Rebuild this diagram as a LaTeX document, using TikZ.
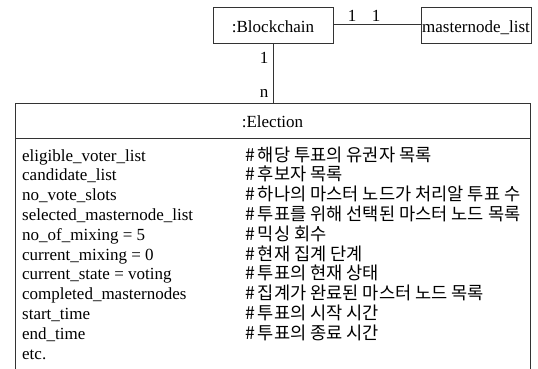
\documentclass[tikz,border=0pt]{standalone}
\usepackage{fontspec}
\setmainfont{Liberation Serif}
\newfontfamily\kr{Noto Sans CJK KR}
\begin{document}
\begin{tikzpicture}[x=1pt,y=-1pt,
  box/.style={draw=black!80, line width=0.8pt},
  lat/.style={anchor=base west, inner sep=0pt, font=\fontsize{17}{20}\selectfont},
  kor/.style={anchor=base west, inner sep=0pt, font=\kr\fontsize{17.6}{20}\selectfont},
  mult/.style={anchor=base, inner sep=0pt, font=\fontsize{17}{20}\selectfont}]
\useasboundingbox (0,0) rectangle (538,368);
% Blockchain
\draw[box] (213,7) rectangle (333,43);
\node[anchor=base, inner sep=0pt, font=\fontsize{17}{20}\selectfont] (bc) at (273,32) {:Blockchain};
\coordinate (bcR) at (333,24);
\coordinate (bcB) at (273,43);
% masternode_list
\draw[box] (421,7) rectangle (531,43);
\node[anchor=base, inner sep=0pt, font=\fontsize{17}{20}\selectfont] (ml) at (476,32) {masternode\_list};
\coordinate (mlL) at (421,24);
% Election box (open at bottom)
\draw[box] (15,369) -- (15,103) -- (530,103) -- (530,369);
\draw[box] (15,138) -- (530,138);
\coordinate (elT) at (273,103);
\node[anchor=base, inner sep=0pt, font=\fontsize{17}{20}\selectfont] (el) at (272.5,127) {:Election};
% connectors
\draw[box] (bcR) -- (mlL);
\draw[box] (bcB) -- (elT);
\node[mult] (m1) at (352,21) {1};
\node[mult] (m2) at (376,21) {1};
\node[mult] (m3) at (264,63) {1};
\node[mult] (m4) at (264,97) {n};
% attributes
\foreach \i/\a/\k in {
 0/eligible\_voter\_list/해당 투표의 유권자 목록,
 1/candidate\_list/후보자 목록,
 2/no\_vote\_slots/하나의 마스터 노드가 처리알 투표 수,
 3/selected\_masternode\_list/투표를 위해 선택된 마스터 노드 목록,
 4/no\_of\_mixing = 5/믹싱 회수,
 5/current\_mixing = 0/현재 집계 단계,
 6/current\_state = voting/투표의 현재 상태,
 7/completed\_masternodes/집계가 완료된 마스터 노드 목록,
 8/start\_time/투표의 시작 시간,
 9/end\_time/투표의 종료 시간}{
  \node[lat] (a\i) at (22,161+19.8*\i) {\a};
  \node[kor] (k\i) at (245,161+19.8*\i) {\#\,\k};
}
\node[lat] (a10) at (22,359) {etc.};
\end{tikzpicture}
\end{document}
